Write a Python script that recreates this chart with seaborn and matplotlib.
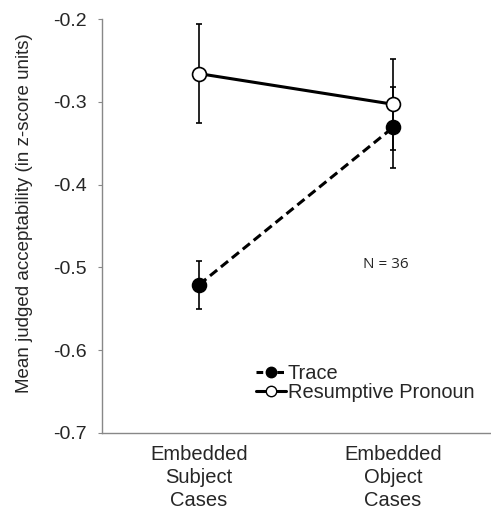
import numpy as np
import pandas as pd
import matplotlib
matplotlib.use("Agg")
import matplotlib.pyplot as plt
from matplotlib.lines import Line2D
import seaborn as sns

# values
categories = ["Embedded\nSubject\nCases", "Embedded\nObject\nCases"]
trace_mean = [-0.521, -0.331]
trace_err = [0.029, 0.049]
rp_mean = [-0.266, -0.303]
rp_err = [0.060, 0.055]
conditions = ["Trace", "Resumptive Pronoun"]
yticks = [-0.7, -0.6, -0.5, -0.4, -0.3, -0.2]

df = pd.DataFrame({
    "x": [0, 1, 0, 1],
    "mean": trace_mean + rp_mean,
    "err": trace_err + rp_err,
    "cond": [conditions[0]] * 2 + [conditions[1]] * 2,
})

sns.set_style("white")
plt.rcParams["font.family"] = ["Liberation Sans", "DejaVu Sans"]

fig = plt.figure(figsize=(4.91, 5.14), dpi=100)
ax = fig.add_axes([0.208, 0.158, 0.79, 0.805])

# error bars first so markers sit on top
for cond in conditions:
    sub = df[df["cond"] == cond]
    ax.errorbar(sub["x"], sub["mean"], yerr=sub["err"], fmt="none",
                ecolor="black", elinewidth=1.2, capsize=2.5, capthick=1.2, zorder=2)

sns.lineplot(data=df, x="x", y="mean", hue="cond", style="cond",
             hue_order=conditions, style_order=conditions,
             palette=["black", "black"], dashes={"Trace": (3, 1.6), "Resumptive Pronoun": ""},
             markers={"Trace": "o", "Resumptive Pronoun": "o"},
             linewidth=2.2, markersize=10, markeredgecolor="black",
             markeredgewidth=1.2, ax=ax, zorder=3, legend=False)

# white fill for resumptive pronoun markers
for ln in ax.get_lines():
    if ln.get_linestyle() == "-":
        ln.set_markerfacecolor("white")
    else:
        ln.set_markerfacecolor("black")

ax.set_xlim(-0.5, 1.5)
ax.set_ylim(-0.7, -0.2)
ax.set_yticks(yticks)
ax.set_yticklabels([f"{v:.1f}" for v in yticks], fontsize=14)
ax.set_xticks([0, 1])
ax.set_xticklabels(categories, fontsize=14.5, linespacing=1.25)
ax.set_xticks([-0.5, 0.5, 1.5], minor=True)
ax.tick_params(axis="x", which="major", length=0, pad=9)
ax.tick_params(axis="x", which="minor", length=4, color="#888888", direction="out")
ax.tick_params(axis="y", length=3, color="#888888", direction="out", left=True, pad=8)
ax.set_xlabel("")
ax.set_ylabel("Mean judged acceptability (in z-score units)", fontsize=13.5)
ax.yaxis.set_label_coords(-0.178, 0.53)

sns.despine(ax=ax)
for s in ["left", "bottom"]:
    ax.spines[s].set_color("#888888")
    ax.spines[s].set_linewidth(1.0)

ax.text(0.673, 0.406, "N = 36", transform=ax.transAxes, fontsize=11,
        family=["Open Sans", "DejaVu Sans"], va="center")

handles = [
    Line2D([], [], color="black", lw=2.2, ls=(0, (2.2, 1.2)), marker="o", markersize=7.5,
           markerfacecolor="black", markeredgecolor="black"),
    Line2D([], [], color="black", lw=2.2, ls="-", marker="o", markersize=7.5,
           markerfacecolor="white", markeredgecolor="black"),
]
ax.legend(handles, conditions, loc="upper left", bbox_to_anchor=(0.37, 0.19),
          frameon=False, fontsize=14.4, handlelength=1.5, handletextpad=0.1,
          labelspacing=0.0, borderpad=0)

fig.savefig("out.png", dpi=100)
